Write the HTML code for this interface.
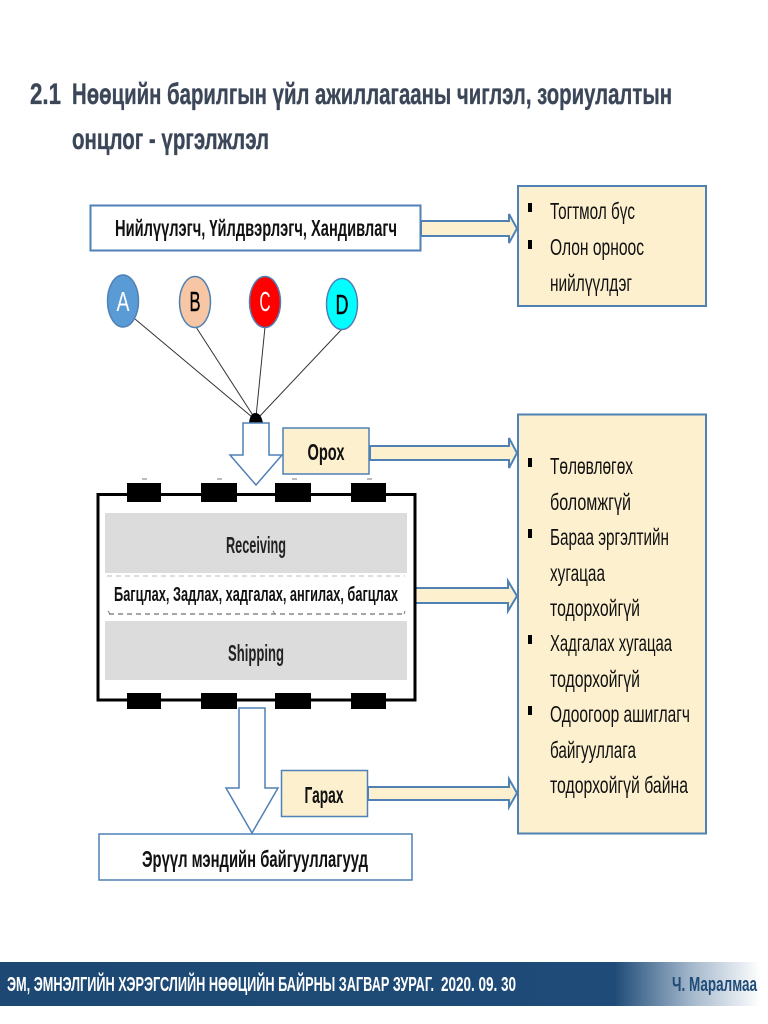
<!DOCTYPE html>
<html><head><meta charset="utf-8"><style>
html,body{margin:0;padding:0;background:#fff;width:768px;height:1024px;overflow:hidden}
svg{display:block}
text{font-family:"Liberation Sans","DejaVu Sans",sans-serif}
</style></head><body>
<svg width="768" height="1024" viewBox="0 0 768 1024" xmlns="http://www.w3.org/2000/svg">
<defs><linearGradient id="g" x1="0" x2="1" y1="0" y2="0">
<stop offset="0" stop-color="#1c4873"/><stop offset="0.8" stop-color="#1f4b78"/><stop offset="0.9" stop-color="#a3b7cb"/><stop offset="0.99" stop-color="#ffffff"/></linearGradient></defs>

<g fill="#3b4759" font-weight="bold" stroke="#3b4759" stroke-width="0.35">
<text x="30" y="104" font-size="30" textLength="31" lengthAdjust="spacingAndGlyphs">2.1</text>
<text x="72" y="104" font-size="30" textLength="600" lengthAdjust="spacingAndGlyphs">Нөөцийн барилгын үйл ажиллагааны чиглэл, зориулалтын</text>
<text x="72" y="149" font-size="30" textLength="197" lengthAdjust="spacingAndGlyphs">онцлог - үргэлжлэл</text>
</g>

<!-- top supplier box -->
<rect x="90.5" y="205.5" width="330" height="45" fill="#fff" stroke="#4f81b5" stroke-width="2"/>
<text x="115" y="236" font-size="23" font-weight="bold" fill="#111" textLength="282" lengthAdjust="spacingAndGlyphs">Нийлүүлэгч, Үйлдвэрлэгч, Хандивлагч</text>

<!-- arrows -->
<g fill="#fdf0cf" stroke="#4f81b5" stroke-width="2">
<path d="M421 221H509V214L517 228.500L509 243V236H421Z"/>
<path d="M370 446H509V438L517 453L509 468V460H370Z"/>
<path d="M413 588H508V581L517 596L508 611V603H413Z"/>
<path d="M368 787H509V779L517 793L509 807V800H368Z"/>
</g>

<!-- right boxes -->
<rect x="518" y="186" width="188" height="120" fill="#fdf0cf" stroke="#4f81b5" stroke-width="2"/>
<rect x="518" y="414.500" width="188" height="419" fill="#fdf0cf" stroke="#4f81b5" stroke-width="2"/>

<g fill="#000">
<rect x="528" y="203" width="4" height="9"/><rect x="528" y="240" width="4" height="9"/>
<rect x="528" y="458" width="4" height="9"/><rect x="528" y="529" width="4" height="9"/>
<rect x="528" y="635" width="4" height="9"/><rect x="528" y="706" width="4" height="9"/>
</g>
<g fill="#111" font-size="23">
<text x="550" y="219" textLength="85" lengthAdjust="spacingAndGlyphs">Тогтмол бүс</text>
<text x="550" y="255" textLength="94" lengthAdjust="spacingAndGlyphs">Олон орноос</text>
<text x="550" y="291" textLength="82" lengthAdjust="spacingAndGlyphs">нийлүүлдэг</text>
<text x="550" y="474" textLength="83" lengthAdjust="spacingAndGlyphs">Төлөвлөгөх</text>
<text x="550" y="510" textLength="81" lengthAdjust="spacingAndGlyphs">боломжгүй</text>
<text x="550" y="545" textLength="119" lengthAdjust="spacingAndGlyphs">Бараа эргэлтийн</text>
<text x="550" y="581" textLength="55" lengthAdjust="spacingAndGlyphs">хугацаа</text>
<text x="550" y="616" textLength="90" lengthAdjust="spacingAndGlyphs">тодорхойгүй</text>
<text x="550" y="651" textLength="122" lengthAdjust="spacingAndGlyphs">Хадгалах хугацаа</text>
<text x="550" y="687" textLength="90" lengthAdjust="spacingAndGlyphs">тодорхойгүй</text>
<text x="550" y="722" textLength="140" lengthAdjust="spacingAndGlyphs">Одоогоор ашиглагч</text>
<text x="550" y="758" textLength="86" lengthAdjust="spacingAndGlyphs">байгууллага</text>
<text x="550" y="793" textLength="138" lengthAdjust="spacingAndGlyphs">тодорхойгүй байна</text>
</g>

<!-- lines -->
<g stroke="#333" stroke-width="1" fill="none">
<line x1="135" y1="319" x2="252" y2="417"/>
<line x1="196" y1="327" x2="254" y2="417"/>
<line x1="265" y1="327" x2="256" y2="417"/>
<line x1="342" y1="329" x2="259" y2="417"/>
</g>
<path d="M249 423 Q250 413 255.500 413 Q261 413 263 423Z" fill="#000"/>

<!-- circles -->
<ellipse cx="123" cy="301" rx="15.500" ry="26" fill="#5b9bd5" stroke="#4f81b5" stroke-width="1.500"/>
<ellipse cx="195" cy="302" rx="15.500" ry="25.500" fill="#f6c6a5" stroke="#4f81b5" stroke-width="1.500"/>
<ellipse cx="265" cy="302" rx="15.500" ry="25.500" fill="#fe0000" stroke="#4f81b5" stroke-width="1.500"/>
<ellipse cx="342" cy="304" rx="15.500" ry="25.500" fill="#00ffff" stroke="#4f81b5" stroke-width="1.500"/>
<g font-size="28" text-anchor="middle">
<text x="123" y="311" fill="#fff" textLength="13" lengthAdjust="spacingAndGlyphs">A</text>
<text x="195" y="311" fill="#000" textLength="11" lengthAdjust="spacingAndGlyphs" stroke="#000" stroke-width="0.4">B</text>
<text x="265" y="311" fill="#fff" textLength="11" lengthAdjust="spacingAndGlyphs">C</text>
<text x="342" y="314" fill="#000" textLength="13" lengthAdjust="spacingAndGlyphs" stroke="#000" stroke-width="0.4">D</text>
</g>

<!-- warehouse -->
<rect x="98" y="494.500" width="317" height="205.500" fill="#fff" stroke="#000" stroke-width="3"/>
<rect x="105" y="513" width="302" height="60" fill="#dcdcdc"/>
<rect x="105" y="621" width="302" height="59" fill="#dcdcdc"/>
<line x1="107" y1="576" x2="405" y2="576" stroke="#bbb" stroke-width="1" stroke-dasharray="5 4"/>
<line x1="109" y1="614" x2="405" y2="614" stroke="#888" stroke-width="1.500" stroke-dasharray="5 4"/>
<g stroke="#777" stroke-width="1"><line x1="108" y1="611" x2="110" y2="614"/><line x1="273" y1="611" x2="275" y2="614"/><line x1="404" y1="614" x2="405" y2="611"/></g>
<g fill="#bbb"><rect x="142" y="478" width="5" height="2"/><rect x="217" y="478" width="5" height="2"/><rect x="292" y="478" width="5" height="2"/><rect x="367" y="478" width="5" height="2"/></g>
<g fill="#000">
<rect x="127" y="483" width="34" height="19"/><rect x="201" y="483" width="36" height="19"/><rect x="275" y="483" width="36" height="19"/><rect x="351" y="483" width="35" height="19"/>
<rect x="127" y="693" width="34" height="16"/><rect x="201" y="693" width="36" height="16"/><rect x="275" y="693" width="36" height="16"/><rect x="351" y="693" width="35" height="16"/>
</g>
<text x="256" y="553" font-size="23" font-weight="bold" fill="#222" text-anchor="middle" textLength="60" lengthAdjust="spacingAndGlyphs">Receiving</text>
<text x="256" y="661" font-size="23" font-weight="bold" fill="#222" text-anchor="middle" textLength="56" lengthAdjust="spacingAndGlyphs">Shipping</text>
<text x="114" y="601" font-size="20" font-weight="bold" fill="#111" textLength="284" lengthAdjust="spacingAndGlyphs">Багцлах, Задлах, хадгалах, ангилах, багцлах</text>

<!-- down arrows -->
<path d="M243 423H269V455H282L256 485L230 455H243Z" fill="#fff" stroke="#4f81b5" stroke-width="1.500"/>
<path d="M239 708H265V788H278L252 833L226 788H239Z" fill="#fff" stroke="#4f81b5" stroke-width="1.500"/>

<!-- Орох / Гарах -->
<rect x="283" y="428" width="86" height="46" fill="#fdf0cf" stroke="#4f81b5" stroke-width="1.500"/>
<text x="326" y="460" font-size="23" font-weight="bold" fill="#111" text-anchor="middle" textLength="37" lengthAdjust="spacingAndGlyphs">Орох</text>
<rect x="281.500" y="770.500" width="86" height="46" fill="#fdf0cf" stroke="#4f81b5" stroke-width="1.500"/>
<text x="324" y="803" font-size="23" font-weight="bold" fill="#111" text-anchor="middle" textLength="39" lengthAdjust="spacingAndGlyphs">Гарах</text>

<!-- bottom box -->
<rect x="99" y="834" width="313" height="46" fill="#fff" stroke="#4f81b5" stroke-width="1.500"/>
<text x="255" y="867" font-size="23" font-weight="bold" fill="#111" text-anchor="middle" textLength="226" lengthAdjust="spacingAndGlyphs">Эрүүл мэндийн байгууллагууд</text>

<!-- footer -->
<rect x="0" y="962" width="768" height="44" fill="url(#g)"/>
<text x="7" y="991" font-size="20" font-weight="bold" fill="#fff" textLength="427" lengthAdjust="spacingAndGlyphs">ЭМ, ЭМНЭЛГИЙН ХЭРЭГСЛИЙН НӨӨЦИЙН БАЙРНЫ ЗАГВАР ЗУРАГ.</text>
<text x="441" y="991" font-size="20" font-weight="bold" fill="#fff" textLength="75" lengthAdjust="spacingAndGlyphs">2020. 09. 30</text>
<text x="672" y="991" font-size="20" font-weight="bold" fill="#1f4b78" textLength="85" lengthAdjust="spacingAndGlyphs">Ч. Маралмаа</text>
</svg>
</body></html>
